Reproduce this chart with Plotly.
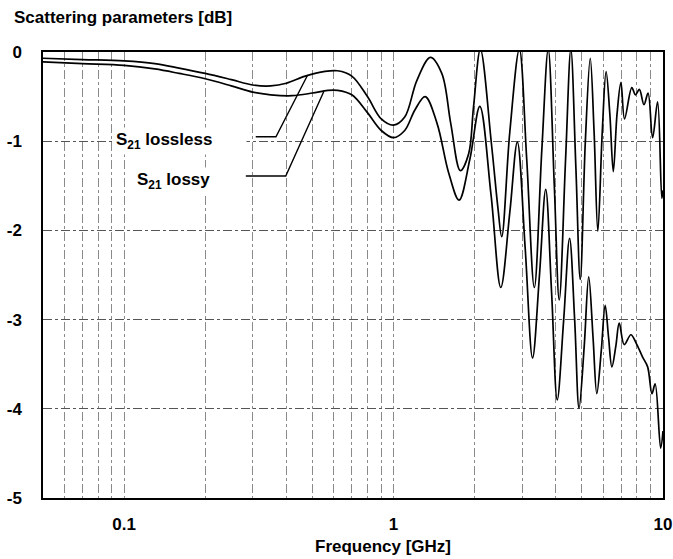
import numpy as np
import plotly.graph_objects as go

# ---------------- data ----------------
freq_lossless = [0.05, 0.07, 0.1, 0.13, 0.16, 0.2, 0.25, 0.3, 0.35, 0.4, 0.47, 0.55, 0.62,
                 0.7, 0.8, 0.9, 1.0, 1.1, 1.22, 1.37, 1.51, 1.63, 1.77, 1.9, 1.98, 2.1,
                 2.31, 2.44, 2.52, 2.7, 2.93, 3.12, 3.33, 3.55, 3.75, 3.95, 4.12, 4.35,
                 4.55, 4.75, 4.93, 5.15, 5.37, 5.55, 5.73, 5.95, 6.15, 6.35, 6.54, 6.75,
                 6.98, 7.2, 7.66, 7.9, 8.17, 8.5, 8.8, 9.15, 9.55, 9.9, 10.0]
s21_lossless = [-0.07, -0.085, -0.10, -0.13, -0.18, -0.24, -0.31, -0.37, -0.38, -0.35, -0.27, -0.22, -0.21,
                -0.27, -0.50, -0.75, -0.82, -0.73, -0.32, -0.06, -0.24, -0.80, -1.33, -1.14, -0.62, 0.03,
                -1.04, -1.75, -2.07, -0.9, 0.03, -1.2, -2.64, -1.1, 0.03, -1.5, -2.78, -1.2,
                0.03, -1.3, -2.55, -1.0, -0.07, -0.9, -2.01, -0.9, -0.22, -0.7, -1.34, -0.7,
                -0.34, -0.75, -0.40, -0.48, -0.42, -0.59, -0.46, -0.96, -0.56, -1.64, -1.55]

freq_lossy = [0.05, 0.07, 0.1, 0.13, 0.16, 0.2, 0.25, 0.3, 0.35, 0.42, 0.5, 0.57, 0.62,
              0.7, 0.8, 0.9, 1.0, 1.1, 1.2, 1.31, 1.45, 1.6, 1.75, 1.92, 2.09, 2.3,
              2.5, 2.7, 2.88, 3.08, 3.28, 3.48, 3.67, 3.86, 4.05, 4.28, 4.5, 4.7,
              4.88, 5.1, 5.3, 5.5, 5.68, 5.9, 6.1, 6.28, 6.46, 6.68, 6.88, 7.18,
              7.6, 7.94, 8.4, 8.77, 9.1, 9.35, 9.8, 10.0]
s21_lossy = [-0.11, -0.13, -0.15, -0.19, -0.24, -0.30, -0.38, -0.45, -0.48, -0.49, -0.46, -0.43, -0.43,
             -0.48, -0.68, -0.88, -0.96, -0.88, -0.65, -0.50, -0.80, -1.35, -1.66, -1.2, -0.61, -1.6,
             -2.64, -1.8, -1.01, -2.2, -3.43, -2.5, -1.54, -2.7, -3.90, -3.0, -2.09, -3.0,
             -3.99, -3.3, -2.52, -3.2, -3.83, -3.35, -2.84, -3.2, -3.53, -3.3, -3.04, -3.28,
             -3.17, -3.26, -3.42, -3.53, -3.83, -3.72, -4.44, -4.25]

x_tickvals = [0.05, 0.06, 0.07, 0.08, 0.09, 0.1, 0.2, 0.3, 0.4, 0.5, 0.6, 0.7, 0.8, 0.9,
              1, 2, 3, 4, 5, 6, 7, 8, 9, 10]
x_ticktext = ["", "", "", "", "", "0.1", "", "", "", "", "", "", "", "",
              "1", "", "", "", "", "", "", "", "", "10"]
y_tickvals = [0, -1, -2, -3, -4, -5]
y_ticktext = ["0", "-1", "-2", "-3", "-4", "-5"]

label_lossless = "S<sub>21</sub> lossless"
label_lossy = "S<sub>21</sub> lossy"
leader_lossless_x = [0.308, 0.366, 0.48]
leader_lossless_y = [-0.95, -0.95, -0.258]
leader_lossy_x = [0.283, 0.398, 0.551]
leader_lossy_y = [-1.39, -1.39, -0.443]
label_lossless_pos = (0.091, -1.0)
label_lossy_pos = (0.109, -1.45)

y_title = "Scattering parameters [dB]"
x_title = "Frequency [GHz]"

FONT = "Arial, Liberation Sans, sans-serif"

fig = go.Figure()
fig.add_trace(go.Scatter(x=freq_lossless, y=s21_lossless, mode="lines",
                         line=dict(color="black", width=1.7, shape="spline", smoothing=1.0),
                         showlegend=False, hoverinfo="skip"))
fig.add_trace(go.Scatter(x=freq_lossy, y=s21_lossy, mode="lines",
                         line=dict(color="black", width=1.7, shape="spline", smoothing=1.0),
                         showlegend=False, hoverinfo="skip"))
fig.add_trace(go.Scatter(x=leader_lossless_x, y=leader_lossless_y, mode="lines",
                         line=dict(color="black", width=1.4), showlegend=False, hoverinfo="skip"))
fig.add_trace(go.Scatter(x=leader_lossy_x, y=leader_lossy_y, mode="lines",
                         line=dict(color="black", width=1.4), showlegend=False, hoverinfo="skip"))

fig.add_annotation(x=np.log10(label_lossless_pos[0]), y=label_lossless_pos[1],
                   xref="x", yref="y", text=label_lossless, showarrow=False,
                   xanchor="left", yanchor="middle", align="left", width=128,
                   bgcolor="white", borderpad=2,
                   font=dict(family=FONT, size=17, color="black", weight="bold"))
fig.add_annotation(x=np.log10(label_lossy_pos[0]), y=label_lossy_pos[1],
                   xref="x", yref="y", text=label_lossy, showarrow=False,
                   xanchor="left", yanchor="middle", align="left",
                   bgcolor="white", borderpad=2,
                   font=dict(family=FONT, size=17, color="black", weight="bold"))

fig.add_annotation(x=(383 - 43) / 620, y=(498 - 546) / 446, xref="paper", yref="paper",
                   text=x_title, showarrow=False, xanchor="center", yanchor="middle",
                   font=dict(family=FONT, size=17, color="black", weight="bold"))

fig.update_layout(
    width=673, height=559,
    margin=dict(l=43, r=10, t=52, b=61, autoexpand=False),
    paper_bgcolor="white", plot_bgcolor="white",
    font=dict(family=FONT, color="black"),
    hovermode=False,
    title=dict(text=y_title, x=14 / 673, xanchor="left", y=1 - 11 / 559, yanchor="top",
               font=dict(family=FONT, size=17, color="black", weight="bold")),
)
fig.update_xaxes(type="log", range=[np.log10(0.05), 1], automargin=False,
                 tickmode="array", tickvals=x_tickvals, ticktext=x_ticktext,
                 showgrid=True, gridcolor="#8a8a8a", gridwidth=1, griddash="dashdot",
                 showline=True, mirror=True, linecolor="black", linewidth=1.5,
                 ticks="", ticklabelstandoff=10, zeroline=False,
                 tickfont=dict(family=FONT, size=17, color="black", weight="bold"))
fig.update_yaxes(range=[-5, 0], automargin=False, tickmode="array",
                 tickvals=y_tickvals, ticktext=y_ticktext,
                 showgrid=True, gridcolor="#555555", gridwidth=1, griddash="dashdot",
                 showline=True, mirror=True, linecolor="black", linewidth=1.5,
                 ticks="", ticklabelstandoff=16, zeroline=False,
                 tickfont=dict(family=FONT, size=17, color="black", weight="bold"))

fig.write_html("out.html", config={"displayModeBar": False},
               post_script="document.body.style.margin='0';document.body.style.padding='0';")
